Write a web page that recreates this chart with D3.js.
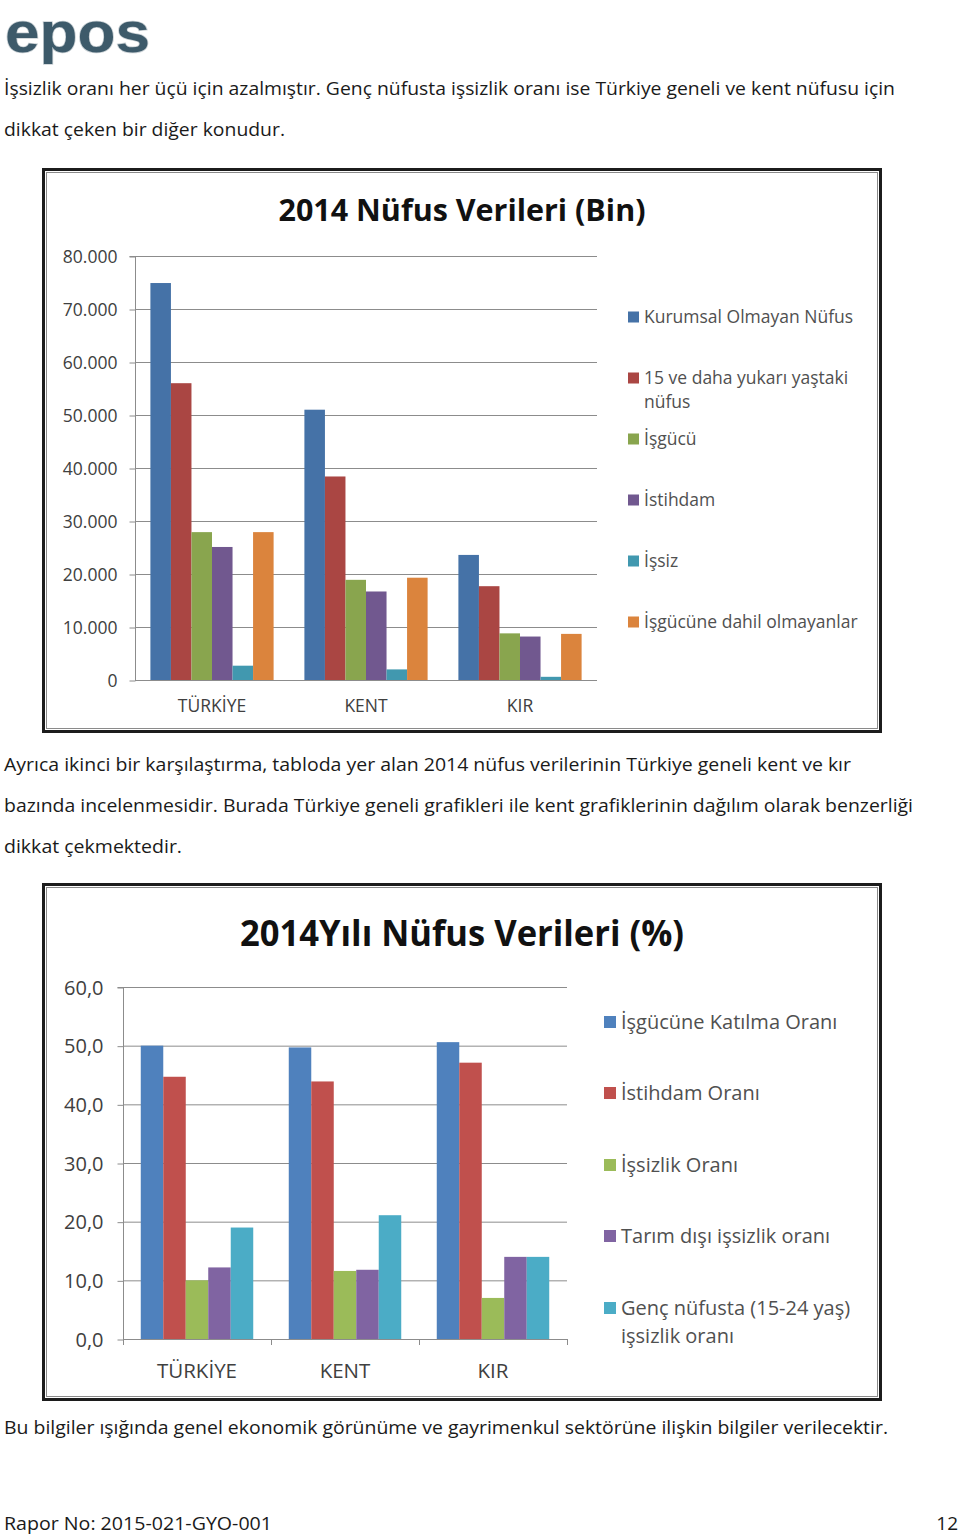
<!DOCTYPE html>
<html><head><meta charset="utf-8">
<script src="https://cdnjs.cloudflare.com/ajax/libs/d3/7.8.5/d3.min.js"></script>
<style>body{margin:0;background:#fff}svg{display:block}</style>
</head><body>
<svg id="page" width="960" height="1536"></svg>
<script>
// ---------- DATA ----------
const categories = ["TÜRKİYE", "KENT", "KIR"];

// Chart 1: 2014 Nüfus Verileri (Bin)
const chart1Title = "2014 Nüfus Verileri (Bin)";
const chart1Series = ["Kurumsal Olmayan Nüfus", "15 ve daha yukarı yaştaki nüfus", "İşgücü", "İstihdam", "İşsiz", "İşgücüne dahil olmayanlar"];
const kurumsalOlmayanNufus = [74900, 51000, 23600];
const onBesYasUstuNufus = [56000, 38400, 17700];
const isgucu = [27900, 18900, 8800];
const istihdam = [25100, 16700, 8200];
const issiz = [2700, 2000, 600];
const isguceDahilOlmayanlar = [27900, 19300, 8700];
const chart1Ticks = [0, 10000, 20000, 30000, 40000, 50000, 60000, 70000, 80000];

// Chart 2: 2014Yılı Nüfus Verileri (%)
const chart2Title = "2014Yılı Nüfus Verileri (%)";
const chart2Series = ["İşgücüne Katılma Oranı", "İstihdam Oranı", "İşsizlik Oranı", "Tarım dışı işsizlik oranı", "Genç nüfusta (15-24 yaş) işsizlik oranı"];
const isguceKatilmaOrani = [50.0, 49.7, 50.6];
const istihdamOrani = [44.7, 43.9, 47.1];
const issizlikOrani = [10.0, 11.6, 7.0];
const tarimDisiIssizlik = [12.2, 11.8, 14.0];
const gencIssizlik = [19.0, 21.1, 14.0];
const chart2Ticks = [0, 10, 20, 30, 40, 50, 60];

// Page text
const logoText = "epos";
const para1 = ["İşsizlik oranı her üçü için azalmıştır. Genç nüfusta işsizlik oranı ise Türkiye geneli ve kent nüfusu için",
               "dikkat çeken bir diğer konudur."];
const para2 = ["Ayrıca ikinci bir karşılaştırma, tabloda yer alan 2014 nüfus verilerinin Türkiye geneli kent ve kır",
               "bazında incelenmesidir. Burada Türkiye geneli grafikleri ile kent grafiklerinin dağılım olarak benzerliği",
               "dikkat çekmektedir."];
const para3 = ["Bu bilgiler ışığında genel ekonomik görünüme ve gayrimenkul sektörüne ilişkin bilgiler verilecektir."];
const footerLeft = "Rapor No: 2015-021-GYO-001";
const footerRight = "12";

// ---------- DRAW ----------
const svg = d3.select("#page");
svg.append("rect").attr("width", 960).attr("height", 1536).attr("fill", "#fff");
const FONT = "'Open Sans', 'Noto Sans', sans-serif";
const trLocale = d3.formatLocale({decimal: ",", thousands: ".", grouping: [3], currency: ["", " TL"]});

function fitText(sel, w) {
  const n = sel.node(); const cur = n.getComputedTextLength();
  if (Math.abs(cur - w) > 1) sel.attr("textLength", w).attr("lengthAdjust", "spacingAndGlyphs");
}

// logo
const logo = svg.append("text").attr("x", 5).attr("y", 52)
  .attr("font-family", "'Liberation Sans', Arial, sans-serif").attr("font-weight", 700)
  .attr("font-size", 57).attr("fill", "#3D5A6A").attr("stroke", "#c9d0d4").attr("stroke-width", 1.5)
  .attr("paint-order", "stroke").text(logoText);
fitText(logo, 145);

// paragraphs
function para(lines, y0, widths) {
  lines.forEach((l, i) => {
    const t = svg.append("text").attr("x", 4).attr("y", y0 + i * 41)
      .attr("font-family", FONT).attr("font-size", 19).attr("fill", "#1a1a1a").text(l);
    fitText(t, widths[i]);
  });
}
para(para1, 95, [891, 281]);
para(para2, 771, [847, 909, 178]);
para(para3, 1434, [884]);
const fl = svg.append("text").attr("x", 4).attr("y", 1530).attr("font-family", FONT).attr("font-size", 19).attr("fill", "#1a1a1a").text(footerLeft);
fitText(fl, 268);
svg.append("text").attr("x", 958).attr("y", 1530).attr("text-anchor", "end").attr("font-family", FONT).attr("font-size", 19).attr("fill", "#1a1a1a").text(footerRight);

function frame(x0, y0, x1, y1) {
  svg.append("rect").attr("x", x0 + 1.5).attr("y", y0 + 1.5).attr("width", x1 - x0 - 3).attr("height", y1 - y0 - 3)
    .attr("fill", "#fff").attr("stroke", "#1c1c1c").attr("stroke-width", 3);
  svg.append("rect").attr("x", x0 + 4.5).attr("y", y0 + 4.5).attr("width", x1 - x0 - 9).attr("height", y1 - y0 - 9)
    .attr("fill", "none").attr("stroke", "#8a8a8a").attr("stroke-width", 1);
}

function barChart(cfg) {
  frame(cfg.frame[0], cfg.frame[1], cfg.frame[2], cfg.frame[3]);
  const g = svg.append("g");
  const t = g.append("text").attr("x", cfg.titleX).attr("y", cfg.titleY).attr("text-anchor", "middle")
    .attr("font-family", FONT).attr("font-weight", 700).attr("font-size", cfg.titleSize).attr("fill", "#111").text(cfg.title);
  fitText(t, cfg.titleW);

  const x0 = d3.scaleBand().domain(categories).range([cfg.left, cfg.right]).paddingInner(cfg.pad).paddingOuter(cfg.pad / 2);
  const x1 = d3.scaleBand().domain(d3.range(cfg.series.length)).range([0, x0.bandwidth()]);
  const y = d3.scaleLinear().domain([0, d3.max(cfg.ticks)]).range([cfg.bottom, cfg.top]);

  // gridlines
  g.append("g").selectAll("line").data(cfg.ticks.filter(d => d > 0)).join("line")
    .attr("x1", cfg.left).attr("x2", cfg.right).attr("y1", d => y(d) + 0.5).attr("y2", d => y(d) + 0.5)
    .attr("stroke", "#8c8c8c").attr("stroke-width", 1);

  // y axis
  const ya = g.append("g").attr("transform", `translate(${cfg.left + 0.5},0)`)
    .call(d3.axisLeft(y).tickValues(cfg.ticks).tickFormat(cfg.fmt).tickSize(6).tickPadding(cfg.tickPad));
  ya.select(".domain").attr("stroke", "#8c8c8c").attr("d", `M-6,${cfg.top + 0.5}H0V${cfg.bottom + 0.5}`);
  ya.selectAll(".tick line").attr("stroke", "#8c8c8c").attr("transform", "translate(0,0.5)");
  ya.selectAll(".tick text").attr("font-family", FONT).attr("font-size", cfg.tickSize).attr("fill", "#404040").attr("dy", "0.35em");

  // bars
  const sg = g.append("g").selectAll("g").data(cfg.values).join("g").attr("fill", (d, i) => cfg.colors[i]);
  sg.selectAll("rect").data((vals, si) => vals.map((v, ci) => ({v, ci, si}))).join("rect")
    .attr("x", d => x0(categories[d.ci]) + x1(d.si)).attr("width", x1.bandwidth())
    .attr("y", d => y(d.v)).attr("height", d => cfg.bottom - y(d.v));

  // x axis
  const xa = g.append("g").attr("transform", `translate(0,${cfg.bottom + 0.5})`)
    .call(d3.axisBottom(x0).tickSize(0).tickPadding(cfg.catPad));
  xa.select(".domain").attr("stroke", "#8c8c8c").attr("d", `M${cfg.left},0H${cfg.right}`);
  xa.selectAll(".tick text").attr("font-family", FONT).attr("font-size", cfg.catSize).attr("fill", "#404040");
  if (cfg.xTicks) {
    const w = (cfg.right - cfg.left) / categories.length;
    g.append("g").selectAll("line").data(d3.range(categories.length + 1)).join("line")
      .attr("x1", i => cfg.left + 0.5 + i * w).attr("x2", i => cfg.left + 0.5 + i * w)
      .attr("y1", cfg.bottom).attr("y2", cfg.bottom + 6).attr("stroke", "#8c8c8c");
  }

  // legend
  const lg = g.append("g");
  cfg.legendY.forEach((ly, i) => {
    lg.append("rect").attr("x", cfg.legendX).attr("y", ly - cfg.sw / 2).attr("width", cfg.sw).attr("height", cfg.sw).attr("fill", cfg.colors[i]);
    cfg.legendLines[i].forEach((ln, k) => {
      lg.append("text").attr("x", cfg.legendX + cfg.sw + 5).attr("y", ly + k * cfg.lineH).attr("dy", "0.35em")
        .attr("font-family", FONT).attr("font-size", cfg.legendSize).attr("fill", "#505050").text(ln);
    });
  });
}

barChart({
  frame: [42, 168, 882, 733],
  title: chart1Title, titleX: 462, titleY: 221, titleSize: 30, titleW: 367,
  series: chart1Series,
  values: [kurumsalOlmayanNufus, onBesYasUstuNufus, isgucu, istihdam, issiz, isguceDahilOlmayanlar],
  colors: ["#4572A7", "#AA4643", "#89A54E", "#71588F", "#4198AF", "#DB843D"],
  ticks: chart1Ticks, fmt: d => d === 0 ? "0" : trLocale.format(",")(d),
  left: 135, right: 597, top: 256, bottom: 680, pad: 0.2, tickPad: 12, tickSize: 17.5,
  catPad: 19, catSize: 17.5,
  legendX: 628, sw: 11, legendSize: 17.5, lineH: 24,
  legendY: [317, 378, 439, 500, 561, 622],
  legendLines: [["Kurumsal Olmayan Nüfus"], ["15 ve daha yukarı yaştaki", "nüfus"], ["İşgücü"], ["İstihdam"], ["İşsiz"], ["İşgücüne dahil olmayanlar"]]
});

barChart({
  frame: [42, 883, 882, 1401],
  title: chart2Title, titleX: 462, titleY: 946, titleSize: 35, titleW: 444,
  series: chart2Series,
  values: [isguceKatilmaOrani, istihdamOrani, issizlikOrani, tarimDisiIssizlik, gencIssizlik],
  colors: ["#4F81BD", "#C0504D", "#9BBB59", "#8064A2", "#4BACC6"],
  ticks: chart2Ticks, fmt: d => trLocale.format(".1f")(d),
  left: 123, right: 567, top: 987, bottom: 1339, pad: 0.24, tickPad: 14, tickSize: 20,
  catPad: 24, catSize: 20.5, xTicks: true,
  legendX: 604, sw: 12, legendSize: 20, lineH: 28,
  legendY: [1022, 1093, 1165, 1236, 1308],
  legendLines: [["İşgücüne Katılma Oranı"], ["İstihdam Oranı"], ["İşsizlik Oranı"], ["Tarım dışı işsizlik oranı"], ["Genç nüfusta (15-24 yaş)", "işsizlik oranı"]]
});
</script>
</body></html>
